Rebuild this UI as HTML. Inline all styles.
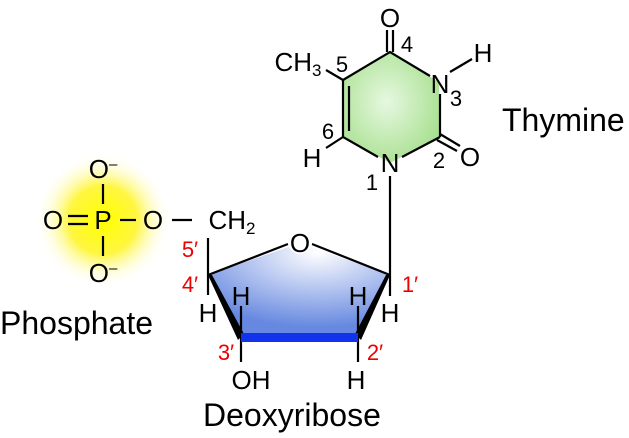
<html><body style="margin:0;background:#fff">
<svg width="629" height="438" viewBox="0 0 629 438" xmlns="http://www.w3.org/2000/svg" font-family="Liberation Sans, sans-serif">
<defs>
<radialGradient id="y" cx="0.5" cy="0.5" r="0.5"><stop offset="0" stop-color="#ffff00"/><stop offset="0.5" stop-color="#fff640"/><stop offset="1" stop-color="#fff" stop-opacity="0"/></radialGradient>
<radialGradient id="g" cx="0.45" cy="0.45" r="0.6"><stop offset="0" stop-color="#e6f8e0"/><stop offset="1" stop-color="#a8e090"/></radialGradient>
<radialGradient id="b" cx="0.6" cy="0.1" r="1"><stop offset="0" stop-color="#ffffff"/><stop offset="0.8" stop-color="#6688e0"/></radialGradient>
</defs>
<circle cx="103" cy="220" r="68" fill="url(#y)"/>
<polygon points="390,52 439,82 440,137 390,163 343,137 343,80" fill="url(#g)"/>
<polygon points="300,243 390,275 358,337 241,337 208,275" fill="url(#b)"/>
<g stroke="#000" stroke-width="2.2" fill="none">
<polyline points="343,80 390,52 430,76"/>
<line x1="440" y1="94" x2="440" y2="137"/>
<polyline points="440,137 402,157"/>
<polyline points="378,157 343,137 343,80"/>
<line x1="349" y1="86" x2="349" y2="131"/>
<line x1="387" y1="52" x2="387" y2="30"/><line x1="393" y1="52" x2="393" y2="30"/>
<line x1="440" y1="134" x2="460" y2="146"/><line x1="437" y1="140" x2="457" y2="151"/>
<line x1="450" y1="72" x2="472" y2="59"/>
<line x1="343" y1="80" x2="326" y2="70"/>
<line x1="343" y1="137" x2="326" y2="148"/>
<line x1="390" y1="176" x2="390" y2="275"/>
<polyline points="288,244 208,275"/><polyline points="312,244 390,275"/>
<line x1="208" y1="238" x2="208" y2="295"/>
<line x1="241" y1="306" x2="241" y2="362"/>
<line x1="358" y1="306" x2="358" y2="362"/>
<line x1="390" y1="275" x2="390" y2="296"/>
<line x1="103" y1="184" x2="103" y2="204"/><line x1="103" y1="236" x2="103" y2="256"/>
<line x1="120" y1="220" x2="136" y2="220"/><line x1="172" y1="220" x2="192" y2="220"/>
<line x1="68" y1="216" x2="88" y2="216"/><line x1="68" y1="224" x2="88" y2="224"/>
</g>
<polygon points="208,275 212,275 244,334 238,340" fill="#000"/>
<polygon points="390,275 386,275 355,334 361,340" fill="#000"/>
<polygon points="241,333 358,333 358,342 241,342" fill="#1133ee"/>
<circle cx="300" cy="242" r="12" fill="#fff"/>
<g font-size="26" fill="#000" text-anchor="middle">
<text x="390" y="27">O</text>
<text x="483" y="62">H</text>
<text x="440" y="93">N</text>
<text x="470" y="166">O</text>
<text x="390" y="172">N</text>
<text x="312" y="167">H</text>
<text x="298" y="71">CH<tspan font-size="17" dy="5">3</tspan></text>
<text x="103" y="178">O<tspan font-size="15" dy="-9">–</tspan></text>
<text x="103" y="282">O<tspan font-size="15" dy="-9">–</tspan></text>
<text x="103" y="229">P</text>
<text x="53" y="229">O</text>
<text x="153" y="229">O</text>
<text x="232" y="229">CH<tspan font-size="17" dy="5">2</tspan></text>
<text x="300" y="252">O</text>
<text x="241" y="305">H</text>
<text x="358" y="305">H</text>
<text x="208" y="322">H</text>
<text x="390" y="322">H</text>
<text x="251" y="389">OH</text>
<text x="356" y="389">H</text>
</g>
<g font-size="22" fill="#000" text-anchor="middle">
<text x="407" y="52">4</text>
<text x="342" y="72">5</text>
<text x="456" y="106">3</text>
<text x="328" y="139">6</text>
<text x="439" y="168">2</text>
<text x="372" y="190">1</text>
</g>
<g font-size="22" fill="#e00" text-anchor="middle">
<text x="190" y="257">5′</text>
<text x="190" y="292">4′</text>
<text x="410" y="292">1′</text>
<text x="226" y="360">3′</text>
<text x="375" y="360">2′</text>
</g>
<g font-size="32" fill="#000">
<text x="0" y="334">Phosphate</text>
<text x="203" y="426">Deoxyribose</text>
<text x="502" y="131">Thymine</text>
</g>
</svg>
</body></html>
